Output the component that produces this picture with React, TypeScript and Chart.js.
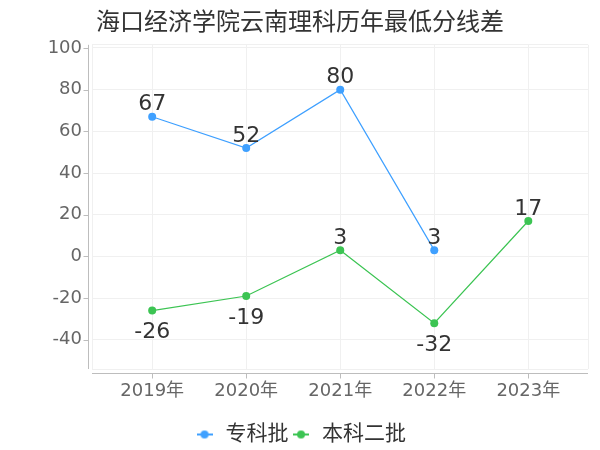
import React, { useEffect, useRef } from 'react';
import { Chart, registerables } from 'chart.js';

Chart.register(...registerables);

const titleText = '海口经济学院云南理科历年最低分线差';
const years = [2019, 2020, 2021, 2022, 2023];
const yearLabels = ['2019年', '2020年', '2021年', '2022年', '2023年'];
const seriesNames = ['专科批', '本科二批'];
const zhuankePi = [67, 52, 80, 3, null];
const benkeErPi = [-26, -19, 3, -32, 17];
const yTickValues = [-40, -20, 0, 20, 40, 60, 80, 100];
const seriesColors = ['#3fa0ff', '#3cc453'];

const FONT = 'DejaVu Sans, "Noto Sans CJK SC", sans-serif';
const X_MIN = 2018.36;
const X_MAX = 2023.635;
const Y_MIN = -54;
const Y_MAX = 101.5;

function legendMarker(color: string) {
  const c = document.createElement('canvas');
  c.width = 16;
  c.height = 10;
  const g = c.getContext('2d')!;
  g.strokeStyle = color;
  g.lineWidth = 2;
  g.beginPath();
  g.moveTo(0, 5);
  g.lineTo(16, 5);
  g.stroke();
  g.fillStyle = color;
  g.beginPath();
  g.arc(8, 5, 4, 0, Math.PI * 2);
  g.fill();
  return c;
}

const axesPlugin = {
  id: 'customAxes',
  afterLayout(chart: any) {
    const lg = chart.legend;
    if (lg) {
      lg.top += 5;
      lg.bottom += 5;
      (lg.legendHitBoxes || []).forEach((b: any) => {
        b.top += 5;
      });
    }
  },
  beforeDatasetsDraw(chart: any) {
    const { ctx, chartArea, scales } = chart;
    const { left, right, top, bottom } = chartArea;
    ctx.save();
    ctx.strokeStyle = '#bdbdbd';
    ctx.lineWidth = 1;
    ctx.beginPath();
    const ax = Math.round(left - 4) + 0.5;
    ctx.moveTo(ax, top);
    ctx.lineTo(ax, bottom);
    for (const v of yTickValues) {
      const y = Math.round(scales.y.getPixelForValue(v)) + 0.5;
      ctx.moveTo(ax - 5, y);
      ctx.lineTo(ax, y);
    }
    const ay = Math.round(bottom + 4) + 0.5;
    ctx.moveTo(left, ay);
    ctx.lineTo(right, ay);
    for (const v of years) {
      const x = Math.round(scales.x.getPixelForValue(v)) + 0.5;
      ctx.moveTo(x, ay);
      ctx.lineTo(x, ay + 5);
    }
    ctx.stroke();
    ctx.restore();
  },
};

const labelPlugin = {
  id: 'pointLabels',
  afterDatasetsDraw(chart: any) {
    const { ctx } = chart;
    ctx.save();
    ctx.font = `22px ${FONT}`;
    ctx.fillStyle = '#333';
    ctx.textAlign = 'center';
    ctx.textBaseline = 'middle';
    chart.data.datasets.forEach((ds: any, i: number) => {
      const meta = chart.getDatasetMeta(i);
      meta.data.forEach((pt: any, j: number) => {
        const v = ds.data[j]?.y;
        if (v === null || v === undefined) return;
        const y = v >= 0 ? pt.y - 12 : pt.y + 22;
        ctx.fillText(String(v), pt.x, y);
      });
    });
    ctx.restore();
  },
};

export default function App() {
  const ref = useRef<HTMLCanvasElement>(null);
  useEffect(() => {
    document.body.style.margin = '0';
    const series = [zhuankePi, benkeErPi];
    const chart = new Chart(ref.current!, {
      type: 'line',
      data: {
        datasets: series.map((arr, i) => ({
          label: seriesNames[i],
          data: arr.map((v, j) => ({ x: years[j], y: v })),
          borderColor: seriesColors[i],
          backgroundColor: seriesColors[i],
          pointBackgroundColor: seriesColors[i],
          pointBorderWidth: 0,
          pointRadius: 4,
          pointStyle: 'circle',
          borderWidth: 1.2,
          spanGaps: false,
        })),
      },
      options: {
        animation: false,
        responsive: false,
        layout: { padding: { left: 0, right: 0, top: 0, bottom: 0 } },
        plugins: {
          title: {
            display: true,
            text: titleText,
            color: '#333',
            font: { size: 24, family: '"Noto Sans CJK SC", sans-serif', weight: 'normal' },
            padding: { top: 6, bottom: 10 },
          },
          legend: {
            position: 'bottom',
            labels: {
              usePointStyle: true,
              color: '#333',
              font: { size: 21, family: FONT },
              padding: 2,
              generateLabels: (chart: any) =>
                chart.data.datasets.map((ds: any, i: number) => ({
                  text: ds.label,
                  pointStyle: legendMarker(seriesColors[i]),
                  fillStyle: seriesColors[i],
                  strokeStyle: seriesColors[i],
                  lineWidth: 0,
                  datasetIndex: i,
                  hidden: false,
                  fontColor: '#333',
                })),
            },
          },
          tooltip: { enabled: false },
        },
        scales: {
          x: {
            type: 'linear',
            min: X_MIN,
            max: X_MAX,
            afterBuildTicks: (s: any) => {
              s.ticks = [X_MIN, ...years, X_MAX].map((v) => ({ value: v }));
            },
            afterFit: (s: any) => {
              s.height = 48;
            },
            border: { display: false },
            grid: { color: '#f0f0f0', drawTicks: false },
            ticks: {
              autoSkip: false,
              maxRotation: 0,
              padding: 12,
              color: '#666',
              font: { size: 18, family: FONT },
              callback: (v: any) => {
                const idx = years.indexOf(Number(v));
                return idx >= 0 ? yearLabels[idx] : '';
              },
            },
          },
          y: {
            type: 'linear',
            min: Y_MIN,
            max: Y_MAX,
            afterBuildTicks: (s: any) => {
              s.ticks = [Y_MIN, ...yTickValues, Y_MAX].map((v) => ({ value: v }));
            },
            afterFit: (s: any) => {
              s.width = 92;
            },
            border: { display: false },
            grid: { color: '#f0f0f0', drawTicks: false },
            ticks: {
              autoSkip: false,
              padding: 10,
              color: '#666',
              font: { size: 18, family: FONT },
              callback: (v: any) => (yTickValues.includes(Number(v)) ? String(v) : ''),
            },
          },
          yRight: {
            type: 'linear',
            position: 'right',
            min: 0,
            max: 1,
            afterFit: (s: any) => {
              s.width = 12;
            },
            border: { display: false },
            grid: { display: false },
            ticks: { display: false },
          },
        },
      },
      plugins: [axesPlugin, labelPlugin],
    } as any);
    return () => chart.destroy();
  }, []);
  return (
    <div style={{ position: 'absolute', left: 0, top: 0, width: 600, height: 450 }}>
      <canvas ref={ref} width={600} height={450} />
    </div>
  );
}
